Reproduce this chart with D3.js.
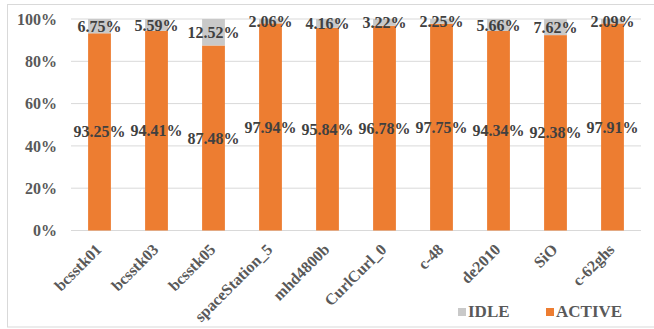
<!DOCTYPE html>
<html>
<head>
<meta charset="utf-8">
<script src="https://cdn.jsdelivr.net/npm/d3@7"></script>
<style>
  body { margin: 0; background: #fff; }
  text { font-family: "Liberation Serif", "Times New Roman", serif; font-weight: bold; }
</style>
</head>
<body>
<div id="chart"></div>
<script>
var matrices = ['bcsstk01', 'bcsstk03', 'bcsstk05', 'spaceStation_5', 'mhd4800b',
    'CurlCurl_0', 'c-48', 'de2010', 'SiO', 'c-62ghs'];
var active = [93.25, 94.41, 87.48, 97.94, 95.84, 96.78, 97.75, 94.34, 92.38, 97.91];
var idle = [6.75, 5.59, 12.52, 2.06, 4.16, 3.22, 2.25, 5.66, 7.62, 2.09];
var yTicks = [0, 20, 40, 60, 80, 100];

var width = 654, height = 329;
var plotLeft = 71, plotRight = 641, plotTop = 19, plotBottom = 230.5;

var svg = d3.select('#chart')
    .append('svg')
    .attr('width', width)
    .attr('height', height);

// chart border
svg.append('rect')
    .attr('x', 7.5).attr('y', 4.5)
    .attr('width', 660).attr('height', 322.5)
    .attr('fill', 'none')
    .attr('stroke', '#d9d9d9');

var x = d3.scaleBand()
    .domain(matrices)
    .range([plotLeft, plotRight])
    .paddingInner(0.6)
    .paddingOuter(0.3);

var y = d3.scaleLinear()
    .domain([0, 100])
    .range([plotBottom, plotTop]);

// gridlines
svg.append('g')
    .selectAll('line')
    .data(yTicks)
    .enter()
    .append('line')
    .attr('x1', plotLeft).attr('x2', plotRight)
    .attr('y1', function(d) { return y(d); })
    .attr('y2', function(d) { return y(d); })
    .attr('stroke', '#d9d9d9')
    .attr('stroke-width', 1);

// y axis labels
var yAxis = d3.axisLeft(y)
    .tickValues(yTicks)
    .tickSize(0)
    .tickPadding(14)
    .tickFormat(function(d) { return d + '%'; });
var yg = svg.append('g')
    .attr('transform', 'translate(' + plotLeft + ',0)')
    .call(yAxis);
yg.select('.domain').remove();
yg.selectAll('text')
    .attr('font-size', '16px')
    .attr('fill', '#595959')
    .style('font-family', '"Liberation Serif", serif')
    .style('font-weight', 'bold');

var rows = matrices.map(function(m, i) {
    return { name: m, active: active[i], idle: idle[i] };
});

var bars = svg.append('g');

// active segment
bars.selectAll('rect.active')
    .data(rows)
    .enter()
    .append('rect')
    .attr('class', 'active')
    .attr('x', function(d) { return x(d.name); })
    .attr('width', x.bandwidth())
    .attr('y', function(d) { return y(d.active); })
    .attr('height', function(d) { return y(0) - y(d.active); })
    .attr('fill', '#ed7d31');

// idle segment
bars.selectAll('rect.idle')
    .data(rows)
    .enter()
    .append('rect')
    .attr('class', 'idle')
    .attr('x', function(d) { return x(d.name); })
    .attr('width', x.bandwidth())
    .attr('y', function(d) { return y(d.active + d.idle); })
    .attr('height', function(d) { return y(d.active) - y(d.active + d.idle); })
    .attr('fill', '#c9c9c9');

// data labels
svg.append('g')
    .selectAll('text')
    .data(rows)
    .enter()
    .append('text')
    .attr('x', function(d) { return x(d.name) + x.bandwidth() / 2; })
    .attr('y', function(d) { return y(d.active / 2); })
    .attr('dy', '0.35em')
    .attr('text-anchor', 'middle')
    .attr('font-size', '16px')
    .attr('fill', '#404040')
    .text(function(d) { return d.active.toFixed(2) + '%'; });

svg.append('g')
    .selectAll('text')
    .data(rows)
    .enter()
    .append('text')
    .attr('x', function(d) { return x(d.name) + x.bandwidth() / 2; })
    .attr('y', function(d) { return y(d.active + d.idle / 2); })
    .attr('dy', '0.35em')
    .attr('text-anchor', 'middle')
    .attr('font-size', '16px')
    .attr('fill', '#404040')
    .text(function(d) { return d.idle.toFixed(2) + '%'; });

// x labels
svg.append('g')
    .selectAll('text')
    .data(matrices)
    .enter()
    .append('text')
    .attr('transform', function(d) {
        return 'translate(' + (x(d) + x.bandwidth() / 2 + 3) + ',' + (plotBottom + 20) + ') rotate(-45)';
    })
    .attr('text-anchor', 'end')
    .attr('font-size', '16px')
    .attr('fill', '#595959')
    .text(function(d) { return d; });

// legend
var legend = [
    { name: 'IDLE', color: '#c9c9c9', x: 458 },
    { name: 'ACTIVE', color: '#ed7d31', x: 546 }
];
var lg = svg.append('g')
    .selectAll('g')
    .data(legend)
    .enter()
    .append('g')
    .attr('transform', function(d) { return 'translate(' + d.x + ',308)'; });
lg.append('rect')
    .attr('width', 8).attr('height', 8)
    .attr('fill', function(d) { return d.color; });
lg.append('text')
    .attr('x', 10)
    .attr('y', 9)
    .attr('font-size', '17px')
    .attr('fill', '#595959')
    .text(function(d) { return d.name; });
</script>
</body>
</html>
